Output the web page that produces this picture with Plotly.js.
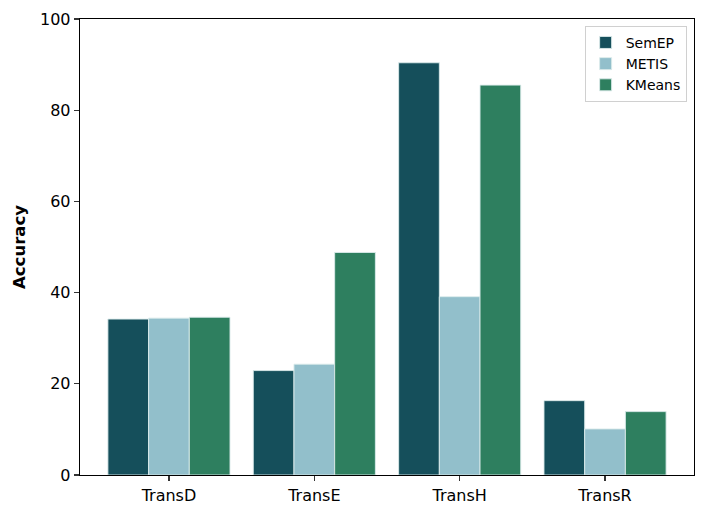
<!DOCTYPE html>
<html><head><meta charset="utf-8">
<script src="https://cdn.plot.ly/plotly-3.0.1.min.js"></script>
<style>html,body{margin:0;padding:0;background:#fff}</style>
</head><body>
<div id="chart" style="width:706px;height:517px"></div>
<script>
const categories = ["TransD", "TransE", "TransH", "TransR"];
const semep = [34.2, 22.9, 90.4, 16.3];
const metis = [34.4, 24.3, 39.1, 10.1];
const kmeans = [34.6, 48.8, 85.5, 13.9];
const yTicks = [0, 20, 40, 60, 80, 100];

const colors = {SemEP: "#154f5b", METIS: "#92bfcb", KMeans: "#2e7f5f"};
const line = {color: "rgba(220,235,235,0.9)", width: 1};
const traces = [
  {name: "SemEP", y: semep},
  {name: "METIS", y: metis},
  {name: "KMeans", y: kmeans}
].map(s => ({
  type: "bar", name: s.name, x: categories, y: s.y,
  marker: {color: colors[s.name], line: line}
}));

const layout = {
  width: 706, height: 517,
  margin: {l: 80, r: 12, t: 19, b: 41.7},
  barmode: "group", bargap: 0.16, bargroupgap: 0,
  paper_bgcolor: "#fff", plot_bgcolor: "#fff",
  font: {family: "DejaVu Sans", size: 16, color: "#000"},
  xaxis: {
    range: [-0.612, 3.612], showline: true, mirror: true, linecolor: "#000", linewidth: 1.3,
    ticks: "outside", ticklen: 5, tickcolor: "#333", tickwidth: 1.3,
    showgrid: false, zeroline: false, tickfont: {size: 16}
  },
  yaxis: {
    range: [0, 100], tickvals: yTicks, ticktext: yTicks.map(String),
    showline: true, mirror: true, linecolor: "#000", linewidth: 1.3,
    ticks: "outside", ticklen: 5, tickcolor: "#333", tickwidth: 1.3,
    showgrid: false, zeroline: false, tickfont: {size: 16},
    title: {text: "<b>Accuracy</b>", font: {size: 16.5}, standoff: 10}
  },
  legend: {
    x: 0.988, y: 0.985, xanchor: "right", yanchor: "top",
    bgcolor: "rgba(255,255,255,0.8)", bordercolor: "#d0d0d0", borderwidth: 1,
    font: {size: 14}, tracegroupgap: 0
  },
  showlegend: true
};
Plotly.newPlot("chart", traces, layout, {displayModeBar: false, staticPlot: true});
</script>
</body></html>
